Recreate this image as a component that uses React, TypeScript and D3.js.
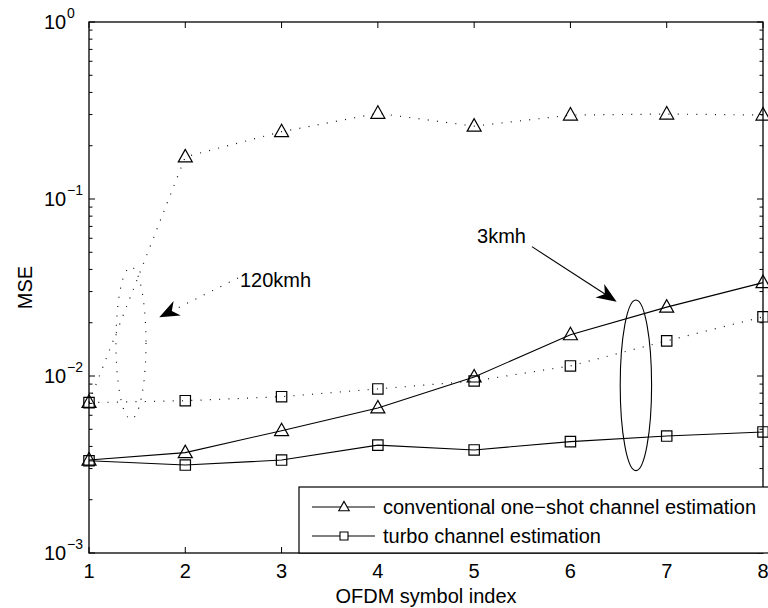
import React from "react";
import * as d3 from "d3";

// OFDM symbol index along the x axis
const symbolIndex = [1, 2, 3, 4, 5, 6, 7, 8];

// MSE per symbol, 120 km/h (dotted) and 3 km/h (solid)
const conv120 = [7.1e-3, 0.173, 0.24, 0.305, 0.258, 0.298, 0.302, 0.298];
const turbo120 = [7.07e-3, 7.25e-3, 7.64e-3, 8.45e-3, 9.37e-3, 0.0114, 0.0158, 0.0216];
const conv3 = [3.35e-3, 3.69e-3, 4.91e-3, 6.6e-3, 9.87e-3, 0.0171, 0.0245, 0.0337];
const turbo3 = [3.32e-3, 3.14e-3, 3.35e-3, 4.07e-3, 3.82e-3, 4.26e-3, 4.58e-3, 4.83e-3];

const xTicks = [1, 2, 3, 4, 5, 6, 7, 8];
const yDecades = [-3, -2, -1, 0];
const legendLabels = ["conventional one\u2212shot channel estimation", "turbo channel estimation"];

const W = 768;
const H = 608;
const FONT = "'Liberation Sans', Arial, Helvetica, sans-serif";
const DOTS = "1 8.3";

export default function App() {
  const x = d3.scaleLinear().domain([1, 8]).range([89, 763]);
  const y = d3.scaleLog().domain([1e-3, 1]).range([553, 22]);
  const [x0, x1] = x.range();
  const [y0, y1] = [y(1e-3), y(1)];

  const line = (vals: number[]) =>
    d3.line<number>().x((_, i) => x(symbolIndex[i])).y((v) => y(v))(vals) || "";

  const tri = (cx: number, cy: number, s = 1) =>
    `M${cx},${cy - 7.5 * s}L${cx - 7 * s},${cy + 5 * s}L${cx + 7 * s},${cy + 5 * s}Z`;
  const sq = (cx: number, cy: number, h = 5.2) =>
    `M${cx - h},${cy - h}h${2 * h}v${2 * h}h${-2 * h}Z`;

  // minor log ticks
  const minor: number[] = [];
  for (let d = -3; d < 0; d++) for (let m = 2; m <= 9; m++) minor.push(m * Math.pow(10, d));

  // annotation arrow with MATLAB-like notched head
  const arrow = (fx: number, fy: number, tx: number, ty: number, dotted: boolean) => {
    const ax = x(fx), ay = y(fy), bx = x(tx), by = y(ty);
    const dx = bx - ax, dy = by - ay;
    const len = Math.hypot(dx, dy);
    const ux = dx / len, uy = dy / len;
    const px = -uy, py = ux;
    const L = 20, Wd = 8, N = 14;
    const c1 = [bx - L * ux + Wd * px, by - L * uy + Wd * py];
    const c2 = [bx - L * ux - Wd * px, by - L * uy - Wd * py];
    const n = [bx - N * ux, by - N * uy];
    return (
      <g>
        <line x1={ax} y1={ay} x2={n[0]} y2={n[1]} stroke="#000" strokeWidth={1.1}
          strokeDasharray={dotted ? DOTS : undefined} />
        <path d={`M${bx},${by}L${c1[0]},${c1[1]}L${n[0]},${n[1]}L${c2[0]},${c2[1]}Z`} fill="#000" />
      </g>
    );
  };

  const ellipse = (cx: number, halfW: number, top: number, bottom: number, dotted: boolean) => {
    const yt = y(top), yb = y(bottom);
    return (
      <ellipse cx={x(cx)} cy={(yt + yb) / 2} rx={x(cx + halfW) - x(cx)} ry={(yb - yt) / 2}
        fill="none" stroke="#000" strokeWidth={1.1} strokeDasharray={dotted ? DOTS : undefined} />
    );
  };

  const series = [
    { vals: conv120, marker: "tri", dotted: true },
    { vals: turbo120, marker: "sq", dotted: true },
    { vals: conv3, marker: "tri", dotted: false },
    { vals: turbo3, marker: "sq", dotted: false },
  ];

  return (
    <svg width={W} height={H} style={{ position: "absolute", left: 0, top: 0, background: "#fff" }}
      fontFamily={FONT}>
      <rect x={0} y={0} width={W} height={H} fill="#fff" />

      {/* data lines */}
      {series.map((s, i) => (
        <g key={i}>
          <path d={line(s.vals)} fill="none" stroke={s.dotted ? "#111" : "#000"} strokeWidth={s.dotted ? 1.2 : 1.1}
            strokeDasharray={s.dotted ? DOTS : undefined} />
          {s.vals.map((v, j) => (
            <path key={j} d={s.marker === "tri" ? tri(x(symbolIndex[j]), y(v)) : sq(x(symbolIndex[j]), y(v))}
              fill="none" stroke="#000" strokeWidth={1.2} />
          ))}
        </g>
      ))}

      {/* annotations */}
      {ellipse(1.436, 0.156, 0.0413, 5.71e-3, true)}
      {arrow(2.547, 0.0358, 1.73, 0.0215, true)}
      <text x={x(2.568)} y={y(0.0318)} fontSize={20}>120kmh</text>

      {ellipse(6.68, 0.163, 0.0269, 2.92e-3, false)}
      {arrow(5.6, 0.0538, 6.48, 0.0263, false)}
      <text x={x(5.03)} y={y(0.0564)} fontSize={20}>3kmh</text>

      {/* axes box */}
      <rect x={x0} y={y1} width={x1 - x0} height={y0 - y1} fill="none" stroke="#000" strokeWidth={1.3} />

      {/* x ticks */}
      {xTicks.map((t) => (
        <g key={t}>
          <line x1={x(t)} x2={x(t)} y1={y0} y2={y0 - 6} stroke="#000" strokeWidth={1} />
          <line x1={x(t)} x2={x(t)} y1={y1} y2={y1 + 6} stroke="#000" strokeWidth={1} />
          <text x={x(t)} y={y0 + 25} fontSize={20} textAnchor="middle">{t}</text>
        </g>
      ))}

      {/* y ticks */}
      {yDecades.map((d) => {
        const v = Math.pow(10, d);
        const py = y(v);
        return (
          <g key={d}>
            <line x1={x0} x2={x0 + 6} y1={py} y2={py} stroke="#000" strokeWidth={1} />
            <line x1={x1} x2={x1 - 6} y1={py} y2={py} stroke="#000" strokeWidth={1} />
            <text x={44} y={py + 7} fontSize={20}>10</text>
            <text x={67} y={py - 4} fontSize={14}>{d < 0 ? `\u2212${-d}` : `${d}`}</text>
          </g>
        );
      })}
      {minor.map((v, i) => (
        <g key={i}>
          <line x1={x0} x2={x0 + 3.5} y1={y(v)} y2={y(v)} stroke="#000" strokeWidth={1} />
          <line x1={x1} x2={x1 - 3.5} y1={y(v)} y2={y(v)} stroke="#000" strokeWidth={1} />
        </g>
      ))}

      {/* axis labels */}
      <text x={(x0 + x1) / 2} y={603} fontSize={20} textAnchor="middle">OFDM symbol index</text>
      <text transform={`translate(32,${(y0 + y1) / 2}) rotate(-90)`} fontSize={20} textAnchor="middle">MSE</text>

      {/* legend */}
      <g>
        <rect x={299} y={487} width={490} height={y0 - 487} fill="#fff" stroke="#000" strokeWidth={1.2} />
        {legendLabels.map((lab, i) => {
          const ly = 507 + i * 29;
          return (
            <g key={i}>
              <line x1={312} x2={375} y1={ly} y2={ly} stroke="#000" strokeWidth={1.1} />
              <path d={i === 0 ? tri(344, ly, 0.75) : sq(344, ly, 4)} fill="#fff" stroke="#000" strokeWidth={1.1} />
              <text x={383} y={ly + 7} fontSize={20}>{lab}</text>
            </g>
          );
        })}
      </g>
    </svg>
  );
}
